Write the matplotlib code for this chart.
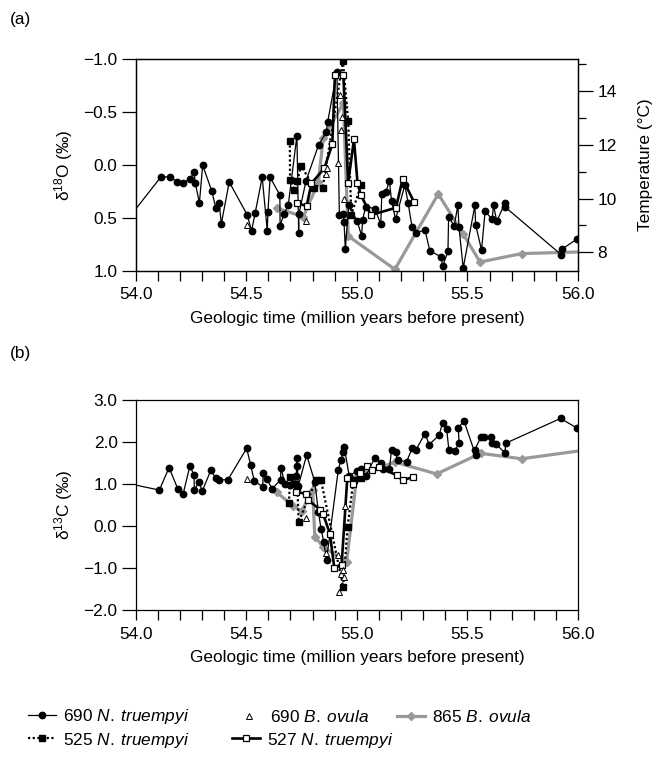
import matplotlib
matplotlib.use("Agg")
import matplotlib.pyplot as plt
from matplotlib.ticker import MultipleLocator, FuncFormatter

plt.rcParams['font.family'] = 'Liberation Sans'
plt.rcParams['mathtext.fontset'] = 'custom'
plt.rcParams['mathtext.rm'] = 'Liberation Sans'
plt.rcParams['mathtext.it'] = 'Liberation Sans:italic'
plt.rcParams['font.size'] = 12.4

# ---- (a) oxygen isotopes ----
a690n_age = [53.95, 54.113, 54.155, 54.188, 54.215, 54.245, 54.264, 54.270, 54.288, 54.303,
             54.344, 54.362, 54.378, 54.387, 54.423, 54.504, 54.524, 54.540, 54.572, 54.595,
             54.598, 54.608, 54.652, 54.653, 54.670, 54.690, 54.729, 54.737, 54.738, 54.770,
             54.827, 54.862, 54.868, 54.910, 54.921, 54.939, 54.942, 54.948, 54.963, 55.002,
             55.022, 55.026, 55.040, 55.082, 55.108, 55.113, 55.132, 55.147, 55.157, 55.175,
             55.217, 55.232, 55.250, 55.267, 55.308, 55.330, 55.379, 55.389, 55.412, 55.415,
             55.440, 55.457, 55.462, 55.481, 55.534, 55.537, 55.564, 55.580, 55.612, 55.618,
             55.633, 55.670, 55.672, 55.924, 55.926, 55.996]
a690n_d18o = [0.55, 0.116, 0.110, 0.161, 0.167, 0.135, 0.070, 0.173, 0.360, 0.003,
              0.246, 0.404, 0.357, 0.558, 0.161, 0.470, 0.622, 0.457, 0.116, 0.620,
              0.440, 0.117, 0.284, 0.574, 0.467, 0.379, -0.277, 0.643, 0.467, 0.151,
              -0.189, -0.312, -0.407, -0.883, 0.473, 0.464, 0.536, 0.798, 0.378, 0.533,
              0.672, 0.520, 0.394, 0.413, 0.561, 0.277, 0.252, 0.149, 0.338, 0.514,
              0.190, 0.362, 0.590, 0.640, 0.615, 0.810, 0.867, 0.953, 0.817, 0.489,
              0.577, 0.381, 0.590, 0.974, 0.381, 0.565, 0.804, 0.438, 0.514, 0.381,
              0.533, 0.357, 0.400, 0.848, 0.798, 0.700]

a690b_age = [54.502, 54.768, 54.859, 54.866, 54.916, 54.924, 54.928, 54.935, 54.943]
a690b_d18o = [0.571, 0.527, 0.085, 0.030, -0.020, -0.660, -0.330, -0.450, 0.325]

a865_age = [54.640, 54.758, 54.826, 54.848, 54.939, 54.961, 55.172, 55.368, 55.481,
            55.557, 55.745, 56.050]
a865_d18o = [0.410, 0.489, 0.164, -0.253, -0.584, 0.672, 0.987, 0.274, 0.653,
             0.918, 0.838, 0.820]

a525_age = [54.697, 54.698, 54.716, 54.731, 54.747, 54.808, 54.845, 54.937, 54.961,
            54.975, 55.020]
a525_d18o = [-0.230, 0.140, 0.240, 0.150, 0.006, 0.215, 0.221, -0.984, -0.416,
             0.470, 0.185]

a527_age = [54.728, 54.773, 54.795, 54.853, 54.889, 54.901, 54.939, 54.961, 54.987,
            55.003, 55.018, 55.064, 55.177, 55.207, 55.258]
a527_d18o = [0.357, 0.388, 0.173, 0.031, -0.196, -0.851, -0.851, 0.167, -0.243,
             0.167, 0.284, 0.473, 0.404, 0.132, 0.347]

# ---- (b) carbon isotopes ----
b690n_age = [53.95, 54.107, 54.151, 54.190, 54.215, 54.245, 54.264, 54.265, 54.286, 54.301,
             54.340, 54.362, 54.378, 54.417, 54.502, 54.520, 54.536, 54.574, 54.577, 54.592,
             54.618, 54.655, 54.657, 54.675, 54.700, 54.720, 54.726, 54.728, 54.730, 54.735,
             54.773, 54.810, 54.826, 54.838, 54.850, 54.863, 54.916, 54.928, 54.939, 54.943,
             54.965, 55.000, 55.020, 55.041, 55.082, 55.108, 55.117, 55.147, 55.157, 55.175,
             55.184, 55.225, 55.250, 55.267, 55.308, 55.327, 55.372, 55.388, 55.406, 55.416,
             55.443, 55.462, 55.459, 55.484, 55.537, 55.534, 55.560, 55.575, 55.606, 55.612,
             55.629, 55.670, 55.673, 55.921, 55.996]
b690n_d13c = [1.03, 0.855, 1.39, 0.89, 0.77, 1.43, 1.21, 0.855, 1.05, 0.83,
              1.33, 1.14, 1.10, 1.10, 1.85, 1.45, 1.08, 0.93, 1.25, 1.11,
              0.89, 1.10, 1.39, 1.00, 0.97, 1.00, 1.20, 1.42, 1.61, 0.95,
              1.69, 1.05, 0.34, -0.06, -0.37, -0.80, 1.33, 1.57, 1.77, 1.89,
              1.20, 1.30, 1.35, 1.19, 1.63, 1.50, 1.35, 1.35, 1.82, 1.77,
              1.57, 1.53, 1.85, 1.81, 2.20, 1.94, 2.16, 2.46, 2.31, 1.82,
              1.78, 1.98, 2.33, 2.51, 1.69, 1.82, 2.11, 2.11, 2.11, 1.98,
              1.95, 1.74, 1.97, 2.56, 2.33]

b690b_age = [54.502, 54.770, 54.860, 54.916, 54.918, 54.928, 54.938, 54.943, 54.946]
b690b_d13c = [1.13, 0.20, -0.64, -0.68, -1.58, -1.14, -1.05, -1.22, 0.48]

b865_age = [54.637, 54.713, 54.750, 54.800, 54.810, 54.848, 54.954, 55.000, 55.172,
            55.361, 55.560, 55.745, 56.050]
b865_d13c = [0.80, 0.48, 0.35, 0.86, -0.25, -0.50, -0.85, 1.20, 1.52,
             1.24, 1.73, 1.60, 1.82]

b525_age = [54.693, 54.698, 54.716, 54.731, 54.737, 54.815, 54.838, 54.938, 54.958,
            54.985, 55.020]
b525_d13c = [0.54, 1.17, 1.00, 0.93, 0.10, 1.09, 1.09, -1.45, -0.02, 1.10, 1.15]

b527_age = [54.725, 54.770, 54.780, 54.833, 54.848, 54.878, 54.898, 54.931, 54.957,
            54.984, 55.014, 55.044, 55.067, 55.100, 55.180, 55.207, 55.252]
b527_d13c = [0.82, 0.76, 0.62, 0.39, 0.28, -0.18, -0.99, -0.94, 1.15,
             0.99, 1.25, 1.43, 1.33, 1.40, 1.21, 1.09, 1.16]

# temperature scale tied to the d18O axis (linear paleotemperature relation)
temp_at_zero = 11.245
temp_per_permil = -3.925

labels = {
    '690n': '690 $\\mathit{N.\\;truempyi}$',
    '690b': '690 $\\mathit{B.\\;ovula}$',
    '865': '865 $\\mathit{B.\\;ovula}$',
    '525': '525 $\\mathit{N.\\;truempyi}$',
    '527': '527 $\\mathit{N.\\;truempyi}$',
}
styles = {
    '865': dict(color='#999999', lw=2.3, marker='D', ms=4.2, mfc='#999999',
                mec='#999999', zorder=2),
    '690n': dict(color='black', lw=0.9, marker='o', ms=4.6, mfc='black',
                 mec='black', zorder=3),
    '525': dict(color='black', lw=1.6, ls=(0, (1, 1.1)), marker='s', ms=4.2,
                mfc='black', mec='black', zorder=4),
    '527': dict(color='black', lw=1.9, marker='s', ms=5.0, mfc='white',
                mec='black', mew=0.9, zorder=5),
    '690b': dict(color='black', lw=0, ls='none', marker='^', ms=4.4, mfc='white',
                 mec='black', mew=0.7, zorder=6),
}


def one_decimal(v, pos):
    if abs(v) < 1e-9:
        v = 0.0
    return f'{v:.1f}'.replace('-', '\u2212')


def draw_panel(ax, series):
    handles = {}
    for key, (x, y) in series.items():
        h, = ax.plot(x, y, label=labels[key], **styles[key])
        handles[key] = h
    ax.set_xlim(54.0, 56.0)
    ax.xaxis.set_major_locator(MultipleLocator(0.5))
    ax.xaxis.set_minor_locator(MultipleLocator(0.1))
    ax.xaxis.set_major_formatter(FuncFormatter(one_decimal))
    ax.yaxis.set_major_formatter(FuncFormatter(one_decimal))
    ax.tick_params(axis='x', which='both', direction='out', length=7.5, width=0.9, pad=4.5)
    ax.tick_params(axis='y', which='both', direction='out', length=10, width=0.9, pad=3)
    ax.set_xlabel('Geologic time (million years before present)', labelpad=6)
    for s in ax.spines.values():
        s.set_linewidth(0.9)
    return handles


fig = plt.figure(figsize=(6.58, 7.68), dpi=100)

ax_a = fig.add_axes([0.2062, 0.6475, 0.6722, 0.2753])
draw_panel(ax_a, {
    '865': (a865_age, a865_d18o),
    '690n': (a690n_age, a690n_d18o),
    '525': (a525_age, a525_d18o),
    '527': (a527_age, a527_d18o),
    '690b': (a690b_age, a690b_d18o),
})
ax_a.set_ylim(1.0, -1.0)
ax_a.yaxis.set_major_locator(MultipleLocator(0.5))
ax_a.set_ylabel('δ$^{18}$O (‰)', labelpad=6)

ax_t = ax_a.twinx()
ax_t.set_ylim(temp_at_zero + temp_per_permil * 1.0, temp_at_zero + temp_per_permil * -1.0)
ax_t.yaxis.set_major_locator(MultipleLocator(2))
ax_t.yaxis.set_minor_locator(MultipleLocator(1))
ax_t.tick_params(axis='y', which='major', direction='out', length=11, width=0.9, pad=3)
ax_t.tick_params(axis='y', which='minor', direction='out', length=5.5, width=0.9)
ax_t.set_ylabel('Temperature (°C)', labelpad=15)
for s in ax_t.spines.values():
    s.set_linewidth(0.9)

ax_b = fig.add_axes([0.2062, 0.2057, 0.6722, 0.2735])
hb = draw_panel(ax_b, {
    '865': (b865_age, b865_d13c),
    '690n': (b690n_age, b690n_d13c),
    '525': (b525_age, b525_d13c),
    '527': (b527_age, b527_d13c),
    '690b': (b690b_age, b690b_d13c),
})
ax_b.set_ylim(-2.0, 3.0)
ax_b.yaxis.set_major_locator(MultipleLocator(1.0))
ax_b.set_ylabel('δ$^{13}$C (‰)', labelpad=6)

fig.text(0.015, 0.975, '(a)', ha='left', va='center')
fig.text(0.015, 0.54, '(b)', ha='left', va='center')

# legend entries placed one by one under panel (b)
legend_spots = [
    ('690n', 28, 717), ('690b', 235, 717), ('865', 397, 717),
    ('525', 28, 740), ('527', 232, 740),
]
W, H = 658.0, 768.0
for key, px, py in legend_spots:
    fig.legend(handles=[hb[key]], loc='center left',
               bbox_to_anchor=(px / W, 1 - py / H), frameon=False,
               borderpad=0, borderaxespad=0, handlelength=1.6,
               handletextpad=0.45, fontsize=12.4)

fig.savefig('out.png', dpi=100)
